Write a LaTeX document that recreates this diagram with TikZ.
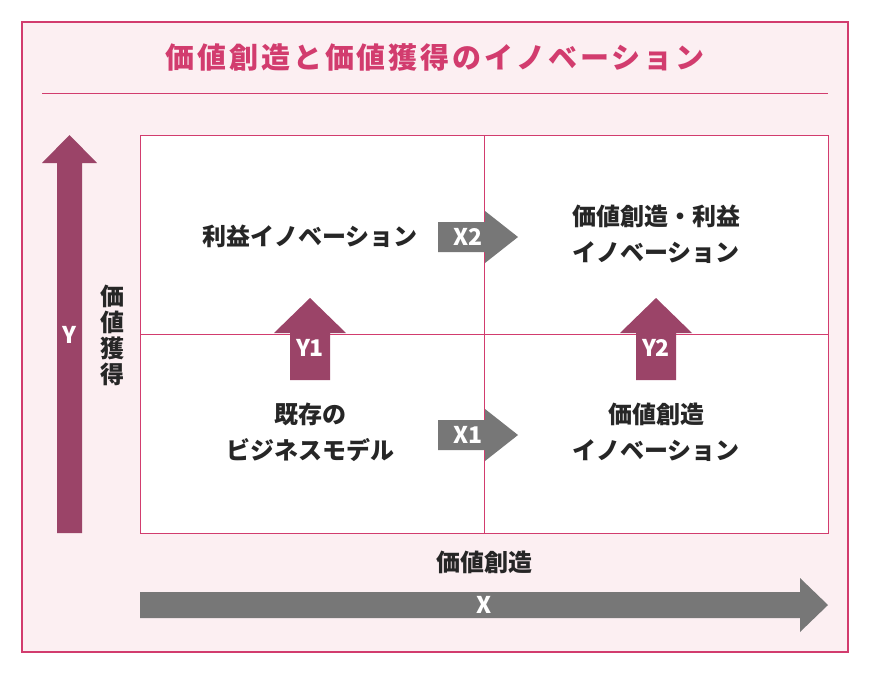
\documentclass[tikz,border=0pt]{standalone}
\usepackage{fontspec}
\setmainfont{Noto Sans CJK JP}
\usetikzlibrary{positioning}
\definecolor{rose}{HTML}{D23C6E}
\definecolor{wine}{HTML}{9B4468}
\definecolor{blush}{HTML}{FCEFF2}
\definecolor{slate}{HTML}{777777}
\begin{document}
\begin{tikzpicture}[%
        x = 1pt,
        y = -1pt,
        label/.style = {font=\fontsize{24}{36}\selectfont\bfseries, align=center, text=black!85},
        tag/.style = {font=\fontsize{23}{26}\selectfont\bfseries, text=white}
    ]

        % Canvas and frame.
        \useasboundingbox (0,0) rectangle (870,673);
        \fill[white] (0,0) rectangle (870,673);
        \draw[rose, line width=1.5pt, fill=blush] (22,22) rectangle (848,652);

        % Title and rule.
        \node[text=rose, font=\fontsize{29}{32}\selectfont\bfseries\addfontfeatures{LetterSpace=10}] (title) at (435,57) {価値創造と価値獲得のイノベーション};
        \draw[rose, line width=0.8pt] (42,93) -- (828,93);

        % Quadrant grid.
        \draw[rose, line width=0.8pt, fill=white] (140,135) rectangle (828,533);
        \draw[rose, line width=0.8pt] (484,135) -- (484,533) (140,334) -- (828,334);

        % Axes.
        \fill[wine] (57,533) -- (57,163) -- (42,163) -- (69.5,135) -- (97,163) -- (82,163) -- (82,533) -- cycle;
        \node[tag] (Y) at (69.5,335) {Y};
        \node[label, font=\fontsize{24}{26}\selectfont\bfseries] (ylab) at (112,335) {価\\値\\獲\\得};
        \fill[slate] (140,592) -- (800,592) -- (800,578) -- (828,605) -- (800,632) -- (800,618) -- (140,618) -- cycle;
        \node[tag] (X) at (484,605) {X};
        \node[label] (xlab) at (484,562) {価値創造};

        % Small arrows.
        \foreach \yy/\nm in {237/X2, 435/X1}
            \fill[slate] (438,\yy-15) -- (485,\yy-15) -- (485,\yy-26) -- (518,\yy) -- (485,\yy+26) -- (485,\yy+15) -- (438,\yy+15) -- cycle
            node[tag] at (468,\yy) {\nm};
        \foreach \xx/\nm in {310/Y1, 656/Y2}
            \fill[wine] (\xx-20,380) -- (\xx-20,333) -- (\xx-36,333) -- (\xx,298) -- (\xx+36,333) -- (\xx+20,333) -- (\xx+20,380) -- cycle
            node[tag] at (\xx,348) {\nm};

        % Quadrant labels.
        \node[label] (profit) at (310,236) {利益イノベーション};
        \node[label] (both) at (656,234) {価値創造・利益\\イノベーション};
        \node[label] (base) at (310,432) {既存の\\ビジネスモデル};
        \node[label] (value) at (656,432) {価値創造\\イノベーション};
    \end{tikzpicture}
\end{document}
